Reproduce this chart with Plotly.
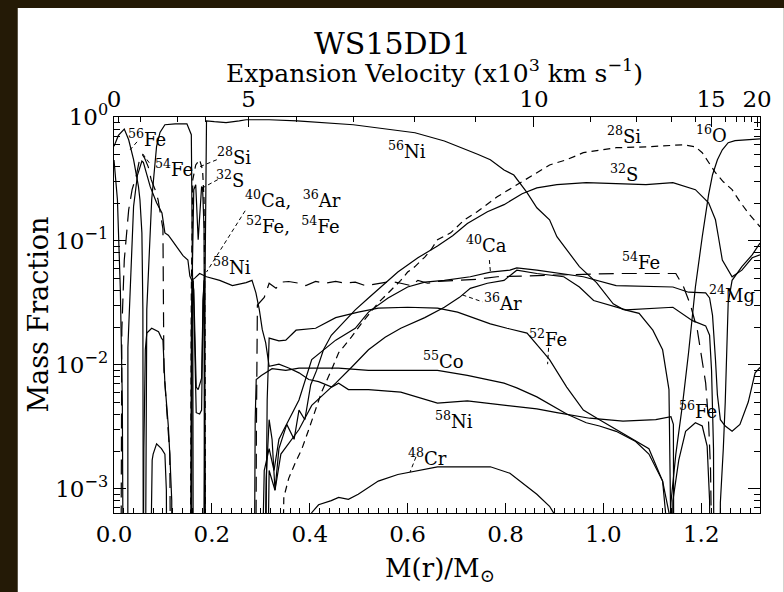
import math
import plotly.graph_objects as go

OFF = 1e-4  # abundance below the plotted range

# ---- abundance profiles: mass coordinate M(r)/Msun and mass fraction ----
ni56_m = [0.064, 0.067, 0.077, 0.087, 0.094, 0.104, 0.125, 0.149, 0.158, 0.161, 0.162, 0.183, 0.186, 0.189, 0.205,
          0.229, 0.256, 0.270, 0.317, 0.374, 0.489, 0.615, 0.675, 0.722, 0.743, 0.769, 0.797, 0.817, 0.844, 0.864,
          0.890, 0.905, 0.925, 0.951, 0.986, 1.020, 1.040, 1.073, 1.101, 1.121, 1.134, 1.139, 1.140]
ni56_x = [OFF, 0.028, 0.215, 0.58, 0.75, 0.866, 0.88, 0.88, 0.72, 0.028, OFF, OFF, 0.048, 0.93, 0.916,
          0.90, 0.93, 0.95, 0.95, 0.93, 0.866, 0.746, 0.64, 0.544, 0.50, 0.452, 0.374, 0.34, 0.245, 0.185,
          0.148, 0.108, 0.084, 0.062, 0.046, 0.031, 0.028, 0.026, 0.019, 0.0132, 0.0063, 0.00097, OFF]

ni58_m = [0.0, 0.007, 0.013, 0.017, 0.019,
          0.0282, 0.0284, 0.033, 0.040, 0.048, 0.057, 0.060, 0.074, 0.087, 0.098, 0.104, 0.111, 0.118, 0.128,
          0.141, 0.151, 0.155, 0.159, 0.165, 0.175, 0.189, 0.216, 0.242, 0.270, 0.282, 0.290, 0.297, 0.303, 0.310,
          0.317, 0.337, 0.357, 0.378, 0.398, 0.418, 0.445, 0.459, 0.479, 0.520, 0.586, 0.661, 0.722, 0.864, 0.905,
          0.972, 1.040, 1.107, 1.138, 1.143, 1.144]
ni58_x = [0.45, 0.215, 0.04, 0.0052, OFF,
          OFF, 0.0138, 0.04, 0.19, 0.34, 0.44, 0.43, 0.274, 0.203, 0.168, 0.116, 0.111, 0.102, 0.089,
          0.076, 0.07, 0.052, 0.048, 0.050, 0.0545, 0.0513, 0.048, 0.0435, 0.046, 0.048, 0.038, 0.0277, 0.0192, 0.0150,
          0.0097, 0.0101, 0.0094, 0.0086, 0.0076, 0.0073, 0.0066, 0.0071, 0.0063, 0.0063, 0.0060, 0.0049, 0.0051, 0.0044,
          0.0041, 0.0037, 0.0035, 0.0036, 0.0038, 0.0033, OFF]

fe56_m = [0.0, 0.009, 0.021, 0.030, 0.040, 0.050, 0.053, 0.057, 0.059, 0.060,
          1.140, 1.142, 1.154, 1.168, 1.188, 1.202, 1.212, 1.217, 1.218]
fe56_x = [0.58, 0.71, 0.80, 0.655, 0.452, 0.274, 0.215, 0.116, 0.028, OFF,
          OFF, 0.0008, 0.0017, 0.0029, 0.0034, 0.0032, 0.0022, 0.0008, OFF]

fe54_m = [0.014, 0.015, 0.016, 0.021, 0.030, 0.037, 0.046, 0.053, 0.058, 0.062, 0.070, 0.076, 0.084, 0.090,
          0.098, 0.100, 0.101, 0.102, 0.104, 0.111, 0.114, 0.116,
          0.2896, 0.291, 0.293, 0.307, 0.317, 0.331, 0.343, 0.357, 0.378, 0.392, 0.412, 0.432, 0.453, 0.473, 0.493,
          0.514, 0.540, 0.566, 0.586, 0.607, 0.621, 0.641, 0.661, 0.702, 0.743, 0.783, 0.823, 0.905, 1.026, 1.128,
          1.148, 1.164, 1.178, 1.192, 1.209, 1.215, 1.219, 1.223]
fe54_x = [OFF, 0.0014, 0.019, 0.070, 0.178, 0.259, 0.342, 0.47, 0.496, 0.47, 0.396, 0.312, 0.259, 0.215,
          0.131, 0.125, 0.033, 0.009, 0.0071, 0.0029, 0.0019, OFF,
          OFF, 0.003, 0.0303, 0.035, 0.0455, 0.0414, 0.0465, 0.047, 0.0455, 0.0435, 0.047, 0.0455, 0.047, 0.0455, 0.0465,
          0.0435, 0.0455, 0.047, 0.0455, 0.0435, 0.048, 0.0455, 0.047, 0.048, 0.049, 0.0513, 0.052, 0.053, 0.0545, 0.0545,
          0.0545, 0.0424, 0.0303, 0.019, 0.0071, 0.0034, 0.0014, OFF]

co55_m = [0.0596, 0.061, 0.064, 0.067, 0.077, 0.091, 0.097, 0.100, 0.104, 0.111, 0.114, 0.118, 0.1183,
          0.2865, 0.2885, 0.2906, 0.301, 0.323, 0.351, 0.378, 0.459, 0.520, 0.661, 0.722, 0.797, 0.823, 0.864,
          0.925, 0.965, 0.992, 1.026, 1.066, 1.093, 1.121, 1.134, 1.136]
co55_x = [OFF, 0.0021, 0.0132, 0.018, 0.0197, 0.0185, 0.0164, 0.0158, 0.0071, 0.0032, 0.0019, 0.0008, OFF,
          OFF, 0.0036, 0.0076, 0.0082, 0.0093, 0.009, 0.0094, 0.0094, 0.009, 0.009, 0.0082, 0.0071, 0.0065, 0.0055,
          0.0040, 0.0034, 0.0032, 0.0029, 0.0024, 0.0019, 0.00115, 0.00064, OFF]

fe52_m = [0.0737, 0.078, 0.080, 0.087, 0.097, 0.104, 0.107, 0.108,
          0.309, 0.313, 0.317, 0.337, 0.351, 0.372, 0.412, 0.453, 0.499, 0.540, 0.600, 0.661, 0.702, 0.769, 0.803,
          0.844, 0.878, 0.890, 0.925, 0.959, 0.992, 1.052, 1.093, 1.121, 1.127, 1.129]
fe52_x = [OFF, 0.0017, 0.0019, 0.0023, 0.0021, 0.0019, 0.00097, OFF,
          OFF, 0.0052, 0.0164, 0.0156, 0.0158, 0.019, 0.0197, 0.024, 0.0266, 0.0286, 0.0291, 0.0286, 0.0266, 0.0214,
          0.0197, 0.018, 0.0125, 0.011, 0.0066, 0.0043, 0.0036, 0.0026, 0.0021, 0.00115, 0.00064, OFF]

cr48_m = [0.402, 0.404, 0.418, 0.444, 0.459, 0.479, 0.499, 0.540, 0.580, 0.621, 0.661, 0.728, 0.769, 0.809,
          0.844, 0.864, 0.890, 0.898, 0.905]
cr48_x = [OFF, 0.00064, 0.00074, 0.0008, 0.00085, 0.00082, 0.0009, 0.00115, 0.0013, 0.0014, 0.0015, 0.0015,
          0.0015, 0.00133, 0.00103, 0.0009, 0.00072, 0.00064, OFF]

si28_m = [0.156, 0.158, 0.161, 0.167, 0.175, 0.181, 0.184, 0.186, 0.187,
          0.343, 0.347, 0.357, 0.370, 0.384, 0.398, 0.412, 0.424, 0.444, 0.459, 0.485, 0.505, 0.540, 0.566, 0.586,
          0.600, 0.615, 0.635, 0.647, 0.661, 0.688, 0.716, 0.742, 0.783, 0.830, 0.864, 0.890, 0.925, 0.959, 1.026,
          1.093, 1.162, 1.188, 1.202, 1.215, 1.229, 1.245, 1.263, 1.279, 1.296, 1.320]
si28_x = [OFF, 0.04, 0.312, 0.41, 0.452, 0.374, 0.215, 0.019, OFF,
          OFF, 0.00085, 0.00121, 0.0016, 0.0021, 0.003, 0.0043, 0.006, 0.009, 0.0125, 0.0167, 0.0214, 0.0316, 0.040,
          0.048, 0.056, 0.062, 0.074, 0.084, 0.102, 0.116, 0.148, 0.172, 0.227, 0.295, 0.355, 0.41, 0.452, 0.515,
          0.565, 0.575, 0.597, 0.575, 0.515, 0.435, 0.355, 0.30, 0.259, 0.207, 0.168, 0.13]

s32_m = [0.157, 0.159, 0.163, 0.167, 0.172, 0.179, 0.181, 0.184, 0.186,
         0.307, 0.311, 0.317, 0.323, 0.329, 0.337, 0.353, 0.368, 0.378, 0.390, 0.402, 0.414, 0.428, 0.444, 0.469,
         0.493, 0.520, 0.546, 0.580, 0.621, 0.661, 0.692, 0.722, 0.763, 0.797, 0.834, 0.864, 0.905, 0.965, 1.026,
         1.087, 1.142, 1.188, 1.215, 1.229, 1.235, 1.243, 1.263, 1.283, 1.304, 1.320]
s32_x = [OFF, 0.033, 0.259, 0.284, 0.102, 0.274, 0.268, 0.125, OFF,
         OFF, 0.0012, 0.0036, 0.0025, 0.00097, 0.0021, 0.0033, 0.0025, 0.0043, 0.0036, 0.0069, 0.009, 0.0132, 0.0173,
         0.022, 0.0277, 0.0346, 0.0424, 0.056, 0.073, 0.091, 0.11, 0.138, 0.172, 0.196, 0.24, 0.268, 0.284, 0.295,
         0.29, 0.284, 0.295, 0.259, 0.203, 0.148, 0.108, 0.07, 0.0513, 0.058, 0.073, 0.077]

ca40_m = [0.157, 0.158, 0.160, 0.163, 0.168, 0.172, 0.179, 0.182, 0.185, 0.187,
          0.301, 0.307, 0.317, 0.327, 0.337, 0.357, 0.378, 0.404, 0.428, 0.453, 0.493, 0.520, 0.560, 0.600, 0.635,
          0.675, 0.728, 0.769, 0.809, 0.823, 0.864, 0.890, 0.959, 1.026, 1.142, 1.174, 1.209, 1.217, 1.223, 1.229,
          1.233, 1.239, 1.249, 1.263, 1.279, 1.296, 1.310, 1.320]
ca40_x = [OFF, 0.019, 0.048, 0.040, 0.0066, 0.0063, 0.0078, 0.033, 0.052, OFF,
          OFF, 0.0014, 0.0021, 0.0014, 0.0025, 0.0036, 0.0052, 0.011, 0.0132, 0.0158, 0.0197, 0.0266, 0.0346, 0.0424,
          0.0465, 0.048, 0.0513, 0.056, 0.058, 0.0606, 0.058, 0.056, 0.0513, 0.0435, 0.0424, 0.0385, 0.038, 0.0346,
          0.025, 0.011, 0.0057, 0.0036, 0.0032, 0.0029, 0.0033, 0.005, 0.0086, 0.0095]

ar36_m = [0.158, 0.160, 0.162, 0.168, 0.175, 0.179, 0.182, 0.184, 0.186,
          0.313, 0.317, 0.329, 0.341, 0.357, 0.378, 0.404, 0.428, 0.453, 0.485, 0.520, 0.554, 0.586, 0.635, 0.675,
          0.706, 0.728, 0.763, 0.797, 0.823, 0.864, 0.919, 0.951, 0.980, 1.046, 1.142, 1.182, 1.209, 1.217, 1.221,
          1.225, 1.226]
ar36_x = [OFF, 0.0277, 0.048, 0.0041, 0.004, 0.0043, 0.033, 0.048, OFF,
          OFF, 0.0014, 0.00097, 0.0019, 0.0023, 0.003, 0.0047, 0.0057, 0.0071, 0.0095, 0.0132, 0.0167, 0.0197, 0.024,
          0.0291, 0.035, 0.0414, 0.0455, 0.048, 0.058, 0.0545, 0.0513, 0.0424, 0.033, 0.0277, 0.0291, 0.0227, 0.0206,
          0.0173, 0.009, 0.0021, OFF]

o16_m = [1.129, 1.138, 1.148, 1.162, 1.174, 1.188, 1.202, 1.209, 1.215, 1.223, 1.233, 1.243, 1.255, 1.269, 1.290, 1.320]
o16_x = [OFF, 0.00077, 0.0019, 0.0049, 0.0125, 0.0424, 0.108, 0.162, 0.236, 0.342, 0.452, 0.544, 0.62, 0.644, 0.655, 0.667]

mg24_m = [1.238, 1.239, 1.245, 1.249, 1.255, 1.263, 1.283, 1.304, 1.320]
mg24_x = [OFF, 0.00077, 0.0021, 0.005, 0.0316, 0.048, 0.062, 0.077, 0.096]

# ---- axes ----
mass_range = [0.0, 1.32]
logy_range = [-3.197, 0.0]
mass_ticks = [0.0, 0.2, 0.4, 0.6, 0.8, 1.0, 1.2]
# expansion velocity (10^3 km/s) and the mass coordinate it corresponds to
vel_labels = ["0", "5", "10", "15", "20"]
vel_major_m = [0.0, 0.275, 0.858, 1.220, 1.314]
vel_minor_m = [0.0095, 0.0535, 0.130, 0.187, 0.373, 0.490, 0.615, 0.738, 0.973, 1.068, 1.140, 1.189,
               1.249, 1.271, 1.289, 1.302]
y_major = [1e-3, 1e-2, 1e-1, 1.0]
y_major_text = ["10<sup>\u22123</sup>", "10<sup>\u22122</sup>", "10<sup>\u22121</sup>", "10<sup>0</sup>"]
y_minor = [k * 10.0 ** e for e in (-4, -3, -2, -1) for k in range(2, 10)]

# ---- curve labels: (text, mass, fraction) ----
labels = [
    ("<sup>56</sup>Fe", 0.068, 0.68), ("<sup>54</sup>Fe", 0.122, 0.39),
    ("<sup>28</sup>Si", 0.245, 0.487), ("<sup>32</sup>S", 0.238, 0.317),
    ("<sup>40</sup>Ca,  <sup>36</sup>Ar", 0.366, 0.218), ("<sup>52</sup>Fe,  <sup>54</sup>Fe", 0.366, 0.135),
    ("<sup>58</sup>Ni", 0.242, 0.063), ("<sup>56</sup>Ni", 0.599, 0.544),
    ("<sup>40</sup>Ca", 0.761, 0.095), ("<sup>36</sup>Ar", 0.795, 0.032),
    ("<sup>55</sup>Co", 0.673, 0.011), ("<sup>58</sup>Ni", 0.695, 0.0036),
    ("<sup>48</sup>Cr", 0.640, 0.0018), ("<sup>52</sup>Fe", 0.886, 0.0164),
    ("<sup>32</sup>S", 1.043, 0.35), ("<sup>28</sup>Si", 1.043, 0.71),
    ("<sup>54</sup>Fe", 1.077, 0.069), ("<sup>16</sup>O", 1.221, 0.73),
    ("<sup>24</sup>Mg", 1.263, 0.037), ("<sup>56</sup>Fe", 1.193, 0.0043),
]
# short leader strokes from labels to curves: (m0, X0, m1, X1)
leaders = [
    (0.047, 0.63, 0.033, 0.544), (0.072, 0.427, 0.057, 0.515),
    (0.210, 0.452, 0.175, 0.396), (0.212, 0.312, 0.181, 0.268),
    (0.268, 0.175, 0.189, 0.056), (0.767, 0.070, 0.769, 0.057),
    (0.712, 0.0366, 0.753, 0.0322), (0.888, 0.0137, 0.886, 0.0101),
    (0.617, 0.0018, 0.605, 0.00136),
]

FONT = "DejaVu Serif"
fig = go.Figure()

solid = dict(color="black", width=1.2)
curves = [
    (ni56_m, ni56_x, None), (ni58_m, ni58_x, None), (fe56_m, fe56_x, None),
    (fe54_m, fe54_x, "15px,8px"), (co55_m, co55_x, None), (fe52_m, fe52_x, None),
    (cr48_m, cr48_x, None), (si28_m, si28_x, "7px,5px"), (s32_m, s32_x, None),
    (ca40_m, ca40_x, None), (ar36_m, ar36_x, None), (o16_m, o16_x, None), (mg24_m, mg24_x, None),
]
for mm, xx, dash in curves:
    line = dict(solid)
    if dash:
        line["dash"] = dash
    fig.add_trace(go.Scatter(x=mm, y=xx, mode="lines", line=line, hoverinfo="skip", showlegend=False))

for m0, x0, m1, x1 in leaders:
    fig.add_trace(go.Scatter(x=[m0, m1], y=[x0, x1], mode="lines",
                             line=dict(color="black", width=1, dash="4px,3px"),
                             hoverinfo="skip", showlegend=False))

# companion trace so the top/right axes are drawn
fig.add_trace(go.Scatter(x=[0.5], y=[0.01], xaxis="x2", yaxis="y2", mode="markers",
                         marker=dict(opacity=0), hoverinfo="skip", showlegend=False))

for text, m, xv in labels:
    fig.add_annotation(x=m, y=math.log10(xv), text=text, showarrow=False, xanchor="center", yanchor="middle",
                       font=dict(family=FONT, size=18, color="black"))

W, H = 784, 592
L, R, T, B = 114, 19, 117, 79
pw, ph = W - L - R, H - T - B


def px(xp):
    return (xp - L) / pw


def py(yp):
    return (H - B - yp) / ph


def page_text(xp, yp, text, size, **kw):
    fig.add_annotation(xref="paper", yref="paper", x=px(xp), y=py(yp), text=text, showarrow=False,
                       xanchor="center", yanchor="middle",
                       font=dict(family=FONT, size=size, color="black"), **kw)


page_text(395, 43, "WS15DD1", 30)
page_text(437, 71, "Expansion Velocity (x10<sup>3</sup> km s<sup>\u22121</sup>)", 25)
page_text(37, 315, "Mass Fraction", 27, textangle=-90)
page_text(443, 569, "M(r)/M<sub>\u2299</sub>", 26)

# white page on a dark frame
fig.add_shape(type="rect", xref="paper", yref="paper", x0=px(17), x1=px(W + 5), y0=py(H + 5), y1=py(8),
              fillcolor="white", line=dict(width=0), layer="below")

tickfont = dict(family=FONT, size=23, color="black")
axis_common = dict(showline=True, linecolor="black", linewidth=1.3, showgrid=False, zeroline=False,
                   ticks="inside", tickcolor="black", tickwidth=1.2)

fig.update_layout(
    width=W, height=H,
    margin=dict(l=L, r=R, t=T, b=B, pad=0),
    paper_bgcolor="#241a06",
    plot_bgcolor="white",
    xaxis=dict(range=mass_range, tickvals=mass_ticks, tickformat=".1f", ticklen=10, tickfont=tickfont,
               minor=dict(ticks="inside", dtick=0.02, tick0=0, ticklen=5, tickcolor="black"),
               **axis_common),
    xaxis2=dict(range=mass_range, overlaying="x", side="top", anchor="y", tickmode="array",
                tickvals=vel_major_m, ticktext=vel_labels, ticklen=10, tickfont=tickfont,
                minor=dict(ticks="inside", tickmode="array", tickvals=vel_minor_m, ticklen=5, tickcolor="black"),
                **axis_common),
    yaxis=dict(type="log", range=logy_range, tickmode="array", tickvals=y_major, ticktext=y_major_text,
               ticklen=12, tickfont=tickfont,
               minor=dict(ticks="inside", tickmode="array", tickvals=y_minor, ticklen=6, tickcolor="black"),
               **axis_common),
    yaxis2=dict(type="log", range=logy_range, overlaying="y", side="right", anchor="x", tickmode="array",
                tickvals=y_major, ticklen=12, showticklabels=False,
                minor=dict(ticks="inside", tickmode="array", tickvals=y_minor, ticklen=6, tickcolor="black"),
                **axis_common),
)

fig.write_html("out.html")
